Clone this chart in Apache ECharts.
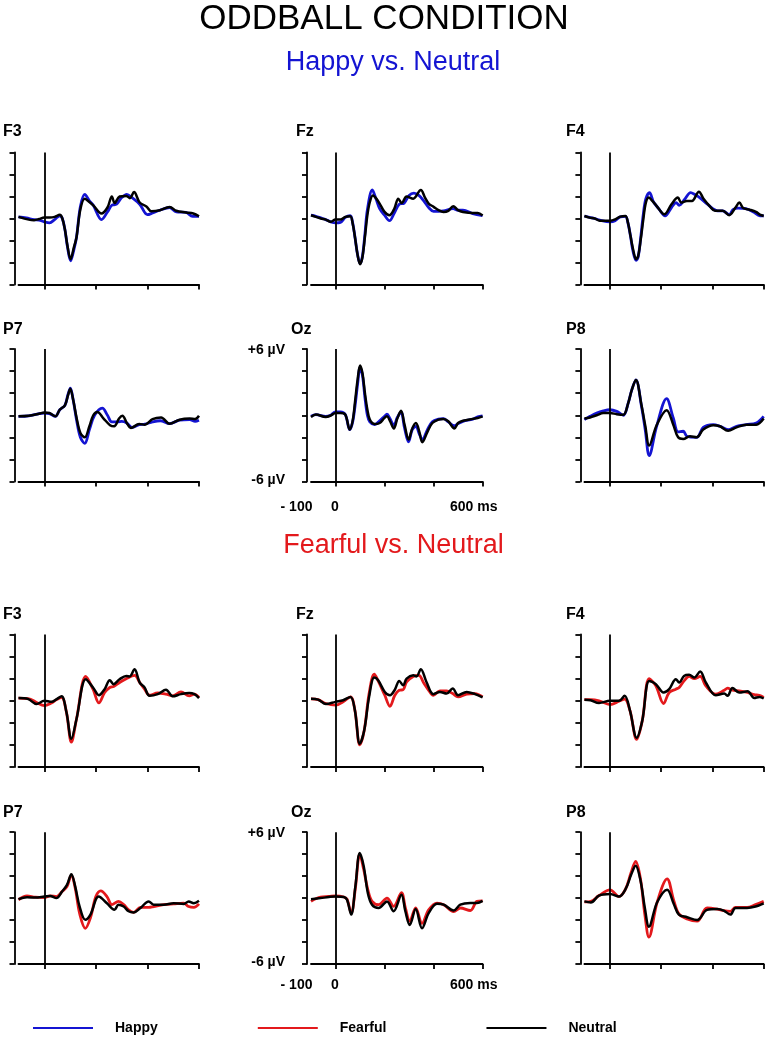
<!DOCTYPE html>
<html><head><meta charset="utf-8">
<script src="https://cdn.jsdelivr.net/npm/echarts@6/dist/echarts.min.js"></script>
<style>html,body{margin:0;padding:0;background:#fff}#c{width:769px;height:1049px}</style>
</head><body><div id="c"></div>
<script>
// ---------- DATA (time in ms, amplitude in µV) ----------
const xTicks = [0, 200, 400, 600];
const xRange = [-100, 600];
const yRange = [-6, 6];
const electrodes = ['F3', 'Fz', 'F4', 'P7', 'Oz', 'P8'];

// Happy vs. Neutral block
const happy_F3 = [[-100,0.15],[-70,0.05],[-40,-0.1],[-20,-0.15],[0,-0.3],[20,-0.4],[40,-0.1],[60,0.25],[70,0],[80,-1.0],[90,-2.6],[102,-3.85],[115,-2.8],[125,-1.7],[140,1.1],[157,2.2],[175,1.6],[190,1.2],[222,-0.1],[245,0.6],[262,1.2],[280,1.3],[300,1.9],[320,2.2],[340,1.9],[370,1.3],[400,0.35],[420,0.5],[448,0.75],[486,1.0],[512,0.6],[550,0.55],[575,0.2],[600,0.2]];
const neutralA_F3 = [[-100,0.15],[-60,-0.1],[-40,-0.15],[-20,-0.05],[0,0.1],[20,0.1],[40,0.15],[60,0.33],[70,0],[80,-1.0],[90,-2.5],[102,-3.7],[115,-2.6],[125,-1.7],[140,0.85],[157,1.8],[170,1.6],[190,1.2],[222,0.45],[245,1.0],[262,2.0],[273,1.4],[292,2.0],[318,2.05],[332,1.85],[348,2.4],[370,1.45],[396,1.1],[415,0.65],[448,0.75],[486,1.05],[512,0.7],[550,0.55],[578,0.45],[600,0.2]];
const happy_Fz = [[-100,0.3],[-80,0.2],[-60,0.05],[-40,-0.1],[-20,-0.3],[0,-0.4],[20,-0.35],[40,0.1],[60,0.25],[70,-0.4],[80,-1.8],[90,-3.3],[100,-4.1],[110,-3.4],[120,-1.4],[130,0.8],[150,2.6],[165,1.8],[180,0.9],[200,0.3],[220,-0.2],[240,0.5],[260,1.3],[280,1.4],[300,2.1],[320,2.3],[340,2.1],[360,1.6],[380,1.0],[400,0.65],[440,0.7],[480,0.9],[500,0.75],[520,0.75],[560,0.45],[600,0.25]];
const neutralA_Fz = [[-100,0.3],[-80,0.15],[-60,0],[-40,-0.1],[-20,-0.3],[0,-0.1],[20,-0.1],[40,0.15],[60,0.2],[70,-0.45],[80,-1.8],[90,-3.3],[100,-4.15],[110,-3.5],[120,-1.67],[130,0.3],[140,1.5],[152,2.1],[165,1.85],[180,1.36],[200,0.6],[220,0.3],[240,0.9],[256,1.8],[270,1.4],[290,2.0],[317,1.8],[348,2.58],[365,1.9],[380,1.36],[400,1.06],[420,0.76],[440,0.6],[460,0.7],[480,1.12],[500,0.76],[520,0.6],[560,0.5],[580,0.5],[600,0.27]];
const happy_F4 = [[-100,0.23],[-80,0.1],[-60,0],[-40,-0.15],[0,-0.3],[20,-0.2],[40,0.15],[60,0.2],[70,-0.4],[80,-1.6],[90,-3.0],[102,-3.8],[110,-3.5],[120,-1.7],[130,0.4],[140,1.8],[154,2.35],[170,1.5],[190,0.9],[215,0.23],[240,1.0],[258,1.44],[270,1.2],[290,1.7],[315,2.35],[330,2.2],[350,1.9],[380,1.3],[420,0.7],[440,0.7],[465,0.35],[480,0.8],[500,0.95],[530,0.9],[560,0.6],[585,0.25],[600,0.25]];
const neutralA_F4 = [[-100,0.23],[-80,0.08],[-60,0],[-40,-0.2],[0,-0.2],[20,-0.08],[40,0.17],[60,0.23],[70,-0.38],[80,-1.6],[90,-2.8],[102,-3.7],[110,-3.4],[120,-1.9],[130,-0.08],[140,1.44],[152,1.9],[165,1.6],[180,1.2],[212,0.38],[240,1.3],[265,1.9],[278,1.45],[300,1.6],[320,1.6],[347,2.44],[365,1.8],[390,1.1],[410,0.7],[440,0.7],[465,0.3],[490,1.0],[505,1.45],[520,0.95],[545,0.8],[570,0.6],[585,0.35],[600,0.23]];
const happy_P7 = [[-100,-0.1],[-60,-0.05],[-20,0.15],[0,0.2],[20,0.15],[43,-0.1],[60,0.5],[80,0.9],[92,1.9],[101,2.45],[112,1.4],[125,-0.4],[140,-2.0],[157,-2.55],[175,-1.3],[195,0.0],[225,0.65],[245,0.0],[262,-0.6],[285,-0.6],[300,-0.55],[320,-0.7],[340,-1.1],[368,-0.85],[390,-0.8],[420,-0.6],[450,-0.5],[486,-0.75],[525,-0.45],[564,-0.4],[585,-0.55],[600,-0.45]];
const neutralA_P7 = [[-100,-0.1],[-60,-0.05],[-20,0.14],[0,0.26],[20,0.2],[43,-0.1],[60,0.5],[80,0.9],[92,1.8],[101,2.4],[112,1.4],[125,-0.2],[140,-1.6],[157,-2.0],[175,-1.0],[190,0.0],[206,0.3],[230,-0.3],[255,-0.9],[271,-1.0],[290,-0.3],[303,-0.05],[320,-0.7],[336,-1.15],[368,-0.8],[390,-0.85],[420,-0.35],[453,-0.2],[486,-0.77],[525,-0.4],[564,-0.3],[585,-0.35],[600,-0.05]];
const happy_Oz = [[-100,-0.1],[-80,0.05],[-40,-0.1],[-20,0.0],[0,0.3],[20,0.3],[40,0.05],[58,-1.3],[70,-0.6],[80,0.9],[90,2.8],[100,4.3],[110,3.6],[120,1.6],[130,0.0],[140,-0.6],[160,-0.85],[180,-0.5],[200,-0.1],[210,0.1],[222,-0.3],[238,-0.9],[252,-0.2],[267,0.3],[282,-1.2],[298,-2.4],[313,-1.3],[328,-1.0],[342,-1.7],[354,-2.2],[375,-1.3],[395,-0.6],[420,-0.35],[440,-0.3],[460,-0.6],[485,-0.95],[500,-0.75],[520,-0.55],[560,-0.35],[580,-0.15],[600,-0.05]];
const neutralA_Oz = [[-100,-0.15],[-80,0.06],[-40,-0.15],[-20,-0.03],[0,0.2],[20,0.2],[40,0.06],[58,-1.3],[70,-0.5],[80,1.3],[90,3.2],[100,4.5],[110,3.8],[120,2.0],[130,0.5],[140,-0.4],[160,-0.8],[180,-0.7],[200,-0.24],[210,-0.1],[222,-0.5],[238,-1.2],[252,-0.3],[267,0.4],[282,-0.9],[298,-2.2],[313,-1.2],[328,-0.7],[342,-1.5],[354,-2.45],[375,-1.5],[395,-0.7],[420,-0.4],[440,-0.33],[460,-0.54],[485,-1.2],[500,-0.7],[520,-0.5],[560,-0.33],[580,-0.25],[600,-0.1]];
const happy_P8 = [[-100,-0.4],[-78,-0.1],[-52,0.2],[-26,0.4],[0,0.5],[26,0.35],[52,0],[71,1.1],[85,2.3],[101,3.2],[123,0.8],[138,-1.4],[153,-3.65],[182,-1.0],[221,1.5],[247,-0.25],[266,-1.5],[286,-1.45],[300,-1.9],[338,-2.0],[364,-1.1],[403,-0.85],[429,-1.0],[461,-1.3],[494,-1.0],[532,-0.85],[571,-0.7],[600,-0.1]];
const neutralA_P8 = [[-100,-0.3],[-78,-0.2],[-52,0],[-26,0.2],[0,0.2],[26,0.1],[52,0.05],[71,1.1],[85,2.3],[101,3.2],[123,0.9],[138,-1.0],[153,-2.75],[182,-0.9],[221,0.45],[247,-0.85],[266,-2.0],[286,-2.15],[312,-1.9],[338,-2.0],[364,-1.3],[403,-0.9],[429,-1.0],[461,-1.4],[494,-1.1],[532,-0.85],[571,-0.85],[600,-0.3]];

// Fearful vs. Neutral block
const fearful_F3 = [[-100,0.24],[-62,0.2],[-30,-0.15],[0,-0.45],[28,-0.2],[48,0.1],[67,0.3],[86,-1.05],[105,-3.75],[125,-1.65],[161,2.2],[189,1.05],[212,-0.2],[234,0.75],[254,1.2],[269,1.3],[292,1.65],[318,2.0],[350,2.3],[370,1.65],[389,1.05],[408,0.5],[440,0.7],[472,0.6],[498,0.45],[530,0.8],[562,0.45],[582,0.6],[600,0.3]];
const neutralB_F3 = [[-100,0.24],[-62,0.15],[-30,-0.3],[0,0],[28,-0.1],[48,0.15],[67,0.4],[86,-1.05],[105,-3.45],[125,-1.65],[161,1.95],[189,1.2],[212,0.5],[234,1.05],[254,1.86],[269,1.5],[292,1.95],[318,2.25],[331,2.2],[350,2.85],[370,1.65],[389,1.2],[408,0.45],[440,0.6],[472,1.0],[498,0.4],[530,0.6],[562,0.7],[582,0.6],[600,0.24]];
const fearful_Fz = [[-100,0.17],[-71,0.1],[-39,-0.25],[0,-0.4],[31,-0.1],[61,0.35],[79,-0.85],[99,-4.0],[117,-2.7],[137,0.65],[158,2.4],[174,1.8],[201,0.5],[222,-0.5],[242,0.5],[260,0.95],[276,1.0],[290,1.7],[317,2.2],[340,2.3],[360,1.6],[380,0.95],[399,0.5],[426,0.9],[453,0.9],[478,0.65],[500,0.35],[535,0.6],[569,0.65],[600,0.35]];
const neutralB_Fz = [[-100,0.17],[-71,0.1],[-39,-0.3],[0,-0.1],[31,0.05],[61,0.35],[79,-0.85],[99,-3.9],[117,-2.7],[137,0.35],[158,2.1],[174,1.85],[201,0.8],[222,0.5],[242,1.0],[260,1.8],[276,1.4],[290,2.0],[317,2.3],[330,2.2],[348,2.85],[371,1.7],[399,0.6],[426,0.8],[453,0.65],[478,1.1],[500,0.5],[535,0.8],[569,0.6],[600,0.3]];
const fearful_F4 = [[-100,0.1],[-76,0.1],[-43,0],[0,-0.35],[35,-0.05],[57,0.15],[78,-0.9],[104,-3.5],[126,-1.8],[153,2.0],[179,1.35],[209,-0.25],[231,0.75],[257,1.05],[270,1.2],[289,1.8],[309,2.2],[329,2.0],[352,2.2],[374,1.35],[413,0.6],[446,0.95],[459,1.15],[478,0.95],[504,0.9],[537,0.75],[563,0.55],[583,0.5],[600,0.3]];
const neutralB_F4 = [[-100,0.1],[-76,0.05],[-43,-0.2],[0,0],[35,0],[57,0.45],[78,-0.9],[104,-3.35],[126,-1.8],[153,1.8],[179,1.5],[209,0.75],[231,1.05],[257,1.95],[270,1.65],[289,2.25],[309,2.35],[329,2.1],[352,2.65],[374,1.65],[413,0.5],[446,0.65],[459,0.45],[478,1.15],[504,0.75],[537,0.85],[563,0.25],[583,0.35],[600,0.2]];
const fearful_P7 = [[-100,-0.15],[-67,0.2],[-35,0.08],[0,0.05],[23,0.2],[47,0.14],[69,0.6],[88,1.05],[105,2.1],[120,0.9],[137,-1.4],[159,-2.75],[179,-1.8],[200,0.14],[219,0.65],[243,0.14],[262,-0.6],[288,-0.3],[308,-0.6],[327,-1.07],[347,-1.3],[373,-0.85],[405,-0.85],[424,-0.77],[463,-0.6],[502,-0.53],[541,-0.47],[560,-0.77],[580,-0.85],[600,-0.53]];
const neutralB_P7 = [[-100,-0.1],[-67,0.08],[-35,0.05],[0,0.14],[23,0.2],[47,0],[69,0.6],[88,1.2],[105,2.17],[120,1.05],[137,-0.77],[159,-1.98],[179,-1.5],[211,0.14],[243,-0.47],[272,-1.07],[288,-0.6],[308,-0.77],[327,-1.2],[347,-1.3],[373,-0.9],[405,-0.3],[424,-0.6],[463,-0.6],[502,-0.47],[541,-0.53],[560,-0.3],[580,-0.47],[600,-0.25]];
const fearful_Oz = [[-100,-0.3],[-61,0.1],[-27,0.15],[0,0.2],[34,0.1],[47,-0.1],[64,-1.37],[81,0.9],[99,4.0],[115,2.6],[132,0.75],[149,-0.3],[176,-0.6],[210,0],[237,-0.75],[269,0.5],[285,-0.9],[303,-2.1],[327,-0.9],[353,-2.3],[380,-1.07],[414,-0.45],[441,-0.6],[482,-1.22],[509,-0.9],[550,-1.13],[577,-0.3],[600,-0.25]];
const neutralB_Oz = [[-100,-0.1],[-61,0],[-27,0.1],[0,0.15],[34,0.1],[47,-0.15],[64,-1.5],[81,1.07],[99,4.1],[115,2.9],[132,0.45],[149,-0.6],[176,-0.9],[210,-0.3],[237,-1.2],[269,0.3],[285,-1.2],[303,-2.45],[327,-1.0],[353,-2.75],[380,-1.37],[414,-0.52],[441,-0.6],[482,-1.13],[509,-0.6],[550,-0.45],[577,-0.45],[600,-0.25]];
const fearful_P8 = [[-100,-0.35],[-75,-0.3],[-43,0.23],[0,0.75],[35,0.14],[61,0.83],[82,2.3],[100,3.35],[119,1.75],[136,-1.5],[152,-3.55],[184,-0.38],[223,1.75],[249,-0.23],[269,-1.44],[301,-1.9],[340,-2.1],[379,-0.9],[418,-1.0],[444,-1.14],[470,-1.2],[490,-0.85],[535,-0.85],[568,-0.6],[600,-0.3]];
const neutralB_P8 = [[-100,-0.3],[-75,-0.4],[-43,0.23],[0,0.38],[35,0.14],[61,0.83],[82,2.1],[100,2.95],[119,1.6],[136,-0.9],[152,-2.6],[184,-0.38],[223,0.77],[249,-0.53],[269,-1.5],[301,-1.74],[340,-2.0],[379,-1.07],[418,-1.0],[444,-1.14],[470,-1.5],[490,-0.9],[535,-0.9],[568,-0.77],[600,-0.47]];

// ---------- LAYOUT / STYLE ----------
const FONT = '"Liberation Sans", Arial, sans-serif';
const BLUE = '#1414d2', RED = '#e3191c', BLACK = '#000000';
const colLeft = [18.5, 311, 584.4];
const colWidth = [180.5, 171.6, 179.3];
const rowTop = [152.5, 349, 634.5, 832.2];
const rowH = [132, 132.5, 132.5, 131.8];
const labelX = [3, 296, 566, 3, 291, 566];
const labelY = [133, 330.5, 615.5, 813.5];

const blocks = [
  { cond: 'Happy', color: BLUE, a: [happy_F3, happy_Fz, happy_F4, happy_P7, happy_Oz, happy_P8],
    n: [neutralA_F3, neutralA_Fz, neutralA_F4, neutralA_P7, neutralA_Oz, neutralA_P8] },
  { cond: 'Fearful', color: RED, a: [fearful_F3, fearful_Fz, fearful_F4, fearful_P7, fearful_Oz, fearful_P8],
    n: [neutralB_F3, neutralB_Fz, neutralB_F4, neutralB_P7, neutralB_Oz, neutralB_P8] }
];

const grid = [], xAxis = [], yAxis = [], series = [], graphic = [];
const axLine = { color: '#000', width: 1.8 };
let idx = 0;
blocks.forEach((b, bi) => {
  electrodes.forEach((el, ei) => {
    const row = bi * 2 + Math.floor(ei / 3), col = ei % 3;
    grid.push({ left: colLeft[col], top: rowTop[row], width: colWidth[col], height: rowH[row] });
    xAxis.push({ gridIndex: idx, type: 'value', min: xRange[0], max: xRange[1],
      axisLine: { show: true, onZero: false, lineStyle: axLine },
      axisTick: { show: true, customValues: xTicks, length: 5, lineStyle: axLine },
      axisLabel: { show: false }, splitLine: { show: false } });
    yAxis.push({ gridIndex: idx, type: 'value', min: yRange[0], max: yRange[1], interval: 2, offset: 4,
      axisLine: { show: true, onZero: false, lineStyle: axLine },
      axisTick: { show: true, length: 5, lineStyle: axLine },
      axisLabel: { show: false }, splitLine: { show: false } });
    series.push({ type: 'line', name: b.cond, xAxisIndex: idx, yAxisIndex: idx, data: b.a[ei],
      showSymbol: false, smooth: 0.35, z: 2, color: b.color,
      lineStyle: { color: b.color, width: 2.8 } });
    series.push({ type: 'line', name: 'Neutral', xAxisIndex: idx, yAxisIndex: idx, data: b.n[ei],
      showSymbol: false, smooth: 0.35, z: 3, color: BLACK,
      lineStyle: { color: BLACK, width: 2.5 },
      markLine: { silent: true, symbol: ['none', 'none'], label: { show: false },
        lineStyle: { color: '#000', width: 1.8, type: 'solid' }, data: [{ xAxis: 0 }] } });
    graphic.push({ type: 'text', left: labelX[ei], top: labelY[row] - 9,
      style: { text: el, font: 'bold 16px ' + FONT, fill: '#000' } });
    idx++;
  });
});

// Oz scale annotations
[[1, 350, 480, 507], [3, 833, 962, 985]].forEach(([row, yTop, yBot, yX]) => {
  const f = 'bold 14px ' + FONT;
  graphic.push({ type: 'text', x: 285, y: yTop, style: { text: '+6 µV', font: f, fill: '#000', align: 'right', verticalAlign: 'middle' } });
  graphic.push({ type: 'text', x: 285, y: yBot, style: { text: '-6 µV', font: f, fill: '#000', align: 'right', verticalAlign: 'middle' } });
  graphic.push({ type: 'text', x: 296.5, y: yX, style: { text: '- 100', font: f, fill: '#000', align: 'center', verticalAlign: 'middle' } });
  graphic.push({ type: 'text', x: 335, y: yX, style: { text: '0', font: f, fill: '#000', align: 'center', verticalAlign: 'middle' } });
  graphic.push({ type: 'text', x: 450, y: yX, style: { text: '600 ms', font: f, fill: '#000', align: 'left', verticalAlign: 'middle' } });
});

// Titles
graphic.push({ type: 'text', x: 384, y: 19, style: { text: 'ODDBALL CONDITION', font: '35px ' + FONT, fill: '#000', align: 'center', verticalAlign: 'middle' } });
graphic.push({ type: 'text', x: 393, y: 63, style: { text: 'Happy vs. Neutral', font: '27px ' + FONT, fill: BLUE, align: 'center', verticalAlign: 'middle' } });
graphic.push({ type: 'text', x: 393.5, y: 546, style: { text: 'Fearful vs. Neutral', font: '27px ' + FONT, fill: RED, align: 'center', verticalAlign: 'middle' } });

const chart = echarts.init(document.getElementById('c'), null, { renderer: 'canvas' });
chart.setOption({
  animation: false,
  backgroundColor: '#fff',
  grid, xAxis, yAxis, series, graphic,
  legend: {
    data: ['Happy', 'Fearful', 'Neutral'], left: 28, top: 1016, icon: 'rect', padding: 5,
    itemWidth: 60, itemHeight: 2, itemGap: 100,
    textStyle: { fontFamily: FONT, fontWeight: 'bold', fontSize: 14, color: '#000', padding: [0, 0, 0, 17] }
  }
});
</script></body></html>
